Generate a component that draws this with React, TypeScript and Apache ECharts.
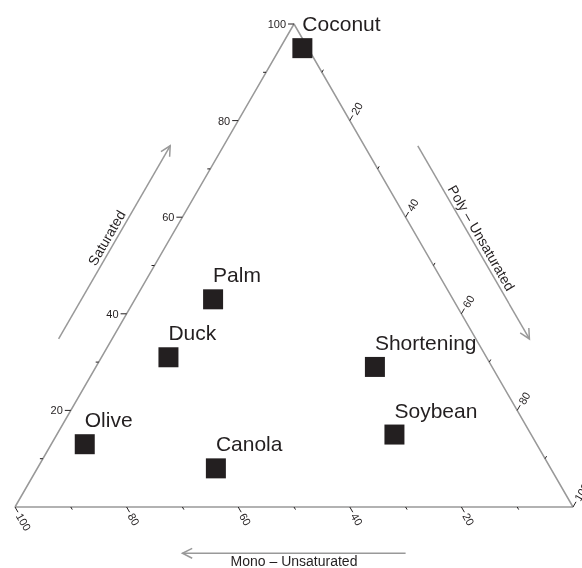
import React, { useEffect, useRef } from "react";
import * as echarts from "echarts";

// ---- data (percent composition of fats) ----
const oils = ["Coconut", "Palm", "Duck", "Olive", "Canola", "Shortening", "Soybean"];
const saturated = [95, 43, 31, 13, 8, 29, 15];
const mono = [1, 43, 57, 81, 60, 21, 24.5];
const poly = [4, 14, 12, 6, 32, 50, 60.5];

// axis order: 0 = Saturated (left), 1 = Poly (right), 2 = Mono (bottom)
const axisNames = ["Saturated", "Poly – Unsaturated", "Mono – Unsaturated"];
const majorTicks = [20, 40, 60, 80, 100];
const minorTicks = [10, 30, 50, 70, 90];
const arrowRange = [30, 70];

const FONT = "'Liberation Sans', Arial, Helvetica, sans-serif";
const INK = "#231f20";
const GREY = "#999999";
const H = (Math.sqrt(3) / 2) * 100;
const C = Math.cos(Math.PI / 3);
const S = Math.sin(Math.PI / 3);

function toXY(s: number, m: number, p: number): number[] {
  const t = s + m + p;
  return [((p + s / 2) / t) * 100, (s / t) * H];
}
function axisPoint(a: number, v: number): number[] {
  if (a === 0) return toXY(v, 100 - v, 0);
  if (a === 1) return toXY(100 - v, 0, v);
  return toXY(0, v, 100 - v);
}
// pixel directions (y down)
const tickDirs = [
  [-1, 0],
  [C, -S],
  [C, S],
];
const labelRot = [0, Math.PI / 3, -Math.PI / 3];
const labelAlign = ["right", "left", "left"];
// outward normals in data space (y up) and in pixel space (y down)
const dataNormals = [
  [-S, C],
  [S, C],
  [0, -1],
];
const pixNormals = [
  [-S, -C],
  [S, -C],
  [0, 1],
];
const titleRot = [Math.PI / 3, -Math.PI / 3, 0];

export default function App() {
  const ref = useRef<HTMLDivElement>(null);
  useEffect(() => {
    if (!ref.current) return;
    const chart = echarts.init(ref.current, null, { renderer: "svg" });

    const tickData: number[][] = [];
    for (let a = 0; a < 3; a++) {
      majorTicks.forEach((v) => tickData.push([a, v, 1]));
      minorTicks.forEach((v) => tickData.push([a, v, 0]));
    }
    const points = oils.map((name, i) => ({
      name,
      value: toXY(saturated[i], mono[i], poly[i]),
    }));

    chart.setOption({
      animation: false,
      grid: { left: 15, top: 24, width: 558, height: 483 },
      xAxis: { type: "value", min: 0, max: 100, show: false },
      yAxis: { type: "value", min: 0, max: H, show: false },
      series: [
        {
          type: "line",
          data: [axisPoint(2, 100), axisPoint(1, 100), axisPoint(0, 100), axisPoint(2, 100)],
          symbol: "none",
          clip: false,
          silent: true,
          lineStyle: { color: GREY, width: 1.5 },
          z: 1,
        },
        {
          type: "custom",
          coordinateSystem: "cartesian2d",
          data: tickData,
          silent: true,
          z: 2,
          renderItem: (params: any, api: any) => {
            const a = api.value(0);
            const v = api.value(1);
            const major = api.value(2) === 1;
            const p = api.coord(axisPoint(a, v));
            const d = tickDirs[a];
            const len = major ? 6 : 3;
            const e = [p[0] + d[0] * len, p[1] + d[1] * len];
            const children: any[] = [
              {
                type: "line",
                shape: { x1: p[0], y1: p[1], x2: e[0], y2: e[1] },
                style: { stroke: INK, lineWidth: 1 },
              },
            ];
            if (major) {
              children.push({
                type: "text",
                x: e[0] + d[0] * 2,
                y: e[1] + d[1] * 2,
                rotation: labelRot[a],
                style: {
                  text: String(v),
                  align: labelAlign[a],
                  verticalAlign: "middle",
                  fontSize: 11,
                  fontFamily: FONT,
                  fill: INK,
                },
              });
            }
            return { type: "group", children };
          },
        },
        {
          type: "custom",
          coordinateSystem: "cartesian2d",
          data: [[0], [1], [2]],
          silent: true,
          z: 2,
          renderItem: (params: any, api: any) => {
            const a = api.value(0);
            const off = 8.3;
            const n = dataNormals[a];
            const t0 = axisPoint(a, arrowRange[0]);
            const t1 = axisPoint(a, arrowRange[1]);
            const tail = api.coord([t0[0] + n[0] * off, t0[1] + n[1] * off]);
            const tip = api.coord([t1[0] + n[0] * off, t1[1] + n[1] * off]);
            const dx = tip[0] - tail[0];
            const dy = tip[1] - tail[1];
            const L = Math.hypot(dx, dy);
            const ux = dx / L;
            const uy = dy / L;
            const ang = (27 * Math.PI) / 180;
            const al = 11;
            const rot = (x: number, y: number, t: number) => [
              x * Math.cos(t) - y * Math.sin(t),
              x * Math.sin(t) + y * Math.cos(t),
            ];
            const r1 = rot(-ux, -uy, ang);
            const r2 = rot(-ux, -uy, -ang);
            const mid = [(tail[0] + tip[0]) / 2, (tail[1] + tip[1]) / 2];
            const pn = pixNormals[a];
            const gap = a === 2 ? 1 : 2;
            return {
              type: "group",
              children: [
                {
                  type: "line",
                  shape: { x1: tail[0], y1: tail[1], x2: tip[0], y2: tip[1] },
                  style: { stroke: GREY, lineWidth: 1.5 },
                },
                {
                  type: "polyline",
                  shape: {
                    points: [
                      [tip[0] + r1[0] * al, tip[1] + r1[1] * al],
                      [tip[0], tip[1]],
                      [tip[0] + r2[0] * al, tip[1] + r2[1] * al],
                    ],
                  },
                  style: { stroke: GREY, lineWidth: 1.5, fill: null },
                },
                {
                  type: "text",
                  x: mid[0] + pn[0] * gap,
                  y: mid[1] + pn[1] * gap,
                  rotation: titleRot[a],
                  style: {
                    text: axisNames[a],
                    align: "center",
                    verticalAlign: a === 2 ? "top" : "bottom",
                    fontSize: 14,
                    fontFamily: FONT,
                    fill: INK,
                  },
                },
              ],
            };
          },
        },
        {
          type: "scatter",
          data: points,
          symbol: "rect",
          symbolSize: 20,
          itemStyle: { color: INK, opacity: 1 },
          z: 3,
          label: {
            show: true,
            formatter: "{b}",
            position: [10, -4],
            align: "left",
            verticalAlign: "bottom",
            fontSize: 21,
            fontFamily: FONT,
            color: INK,
          },
        },
      ],
    });
    return () => chart.dispose();
  }, []);
  return (
    <div
      ref={ref}
      style={{ position: "fixed", left: 0, top: 0, width: 582, height: 568 }}
    />
  );
}
